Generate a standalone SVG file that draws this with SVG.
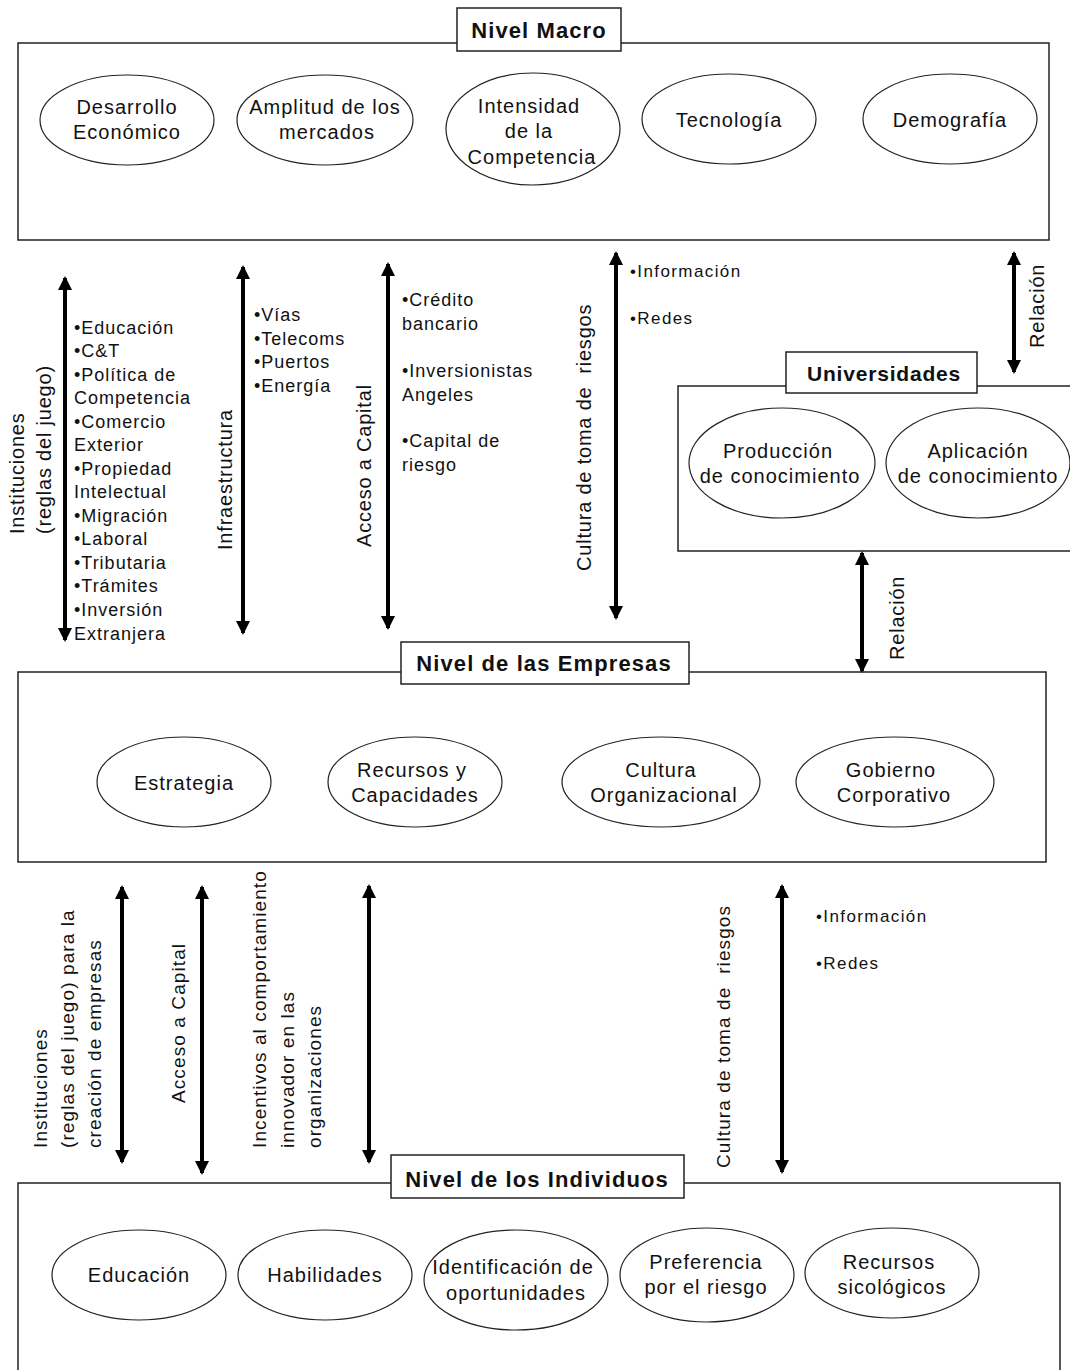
<svg xmlns="http://www.w3.org/2000/svg" width="1070" height="1370" viewBox="0 0 1070 1370">
<defs>
<marker id="ah" markerUnits="userSpaceOnUse" markerWidth="14" markerHeight="16" viewBox="0 0 14 16" refX="12" refY="8" orient="auto-start-reverse">
<path d="M0,1 L14,8 L0,15 Z" fill="#000"/>
</marker>
</defs>
<style>
text{font-family:"Liberation Sans",Arial,sans-serif;fill:#111}
.frame{fill:none;stroke:#222;stroke-width:1.5}
.tbox{fill:#fff;stroke:#222;stroke-width:1.5}
.title{font-size:22px;font-weight:bold;text-anchor:middle;letter-spacing:1.1px}
.ell{fill:#fff;stroke:#222;stroke-width:1.2}
.et{font-size:20px;text-anchor:middle;letter-spacing:1px}
.bl{font-size:18px;letter-spacing:1px}
.bs{font-size:17px;letter-spacing:1.4px}
.lab{font-size:20px;letter-spacing:0.8px}
.labs{font-size:19px;letter-spacing:1.1px}
.arr{stroke:#000;stroke-width:4;marker-start:url(#ah);marker-end:url(#ah)}
</style>

<g id="macro">
<rect class="frame" x="18" y="43" width="1031" height="197"/>
<rect class="tbox" x="457" y="8" width="164" height="43"/>
<text class="title" x="539" y="38">Nivel Macro</text>
</g>
<g id="desarrollo"><ellipse class="ell" cx="127" cy="120" rx="87" ry="45"/><text class="et" x="127" y="114">Desarrollo</text><text class="et" x="127" y="139">Económico</text></g>
<g id="amplitud"><ellipse class="ell" cx="325" cy="120" rx="88" ry="45"/><text class="et" x="325" y="114">Amplitud de los</text><text class="et" x="327" y="139">mercados</text></g>
<g id="intensidad"><ellipse class="ell" cx="533" cy="129" rx="87" ry="56"/><text class="et" x="529" y="113">Intensidad</text><text class="et" x="529" y="138">de la</text><text class="et" x="532" y="164">Competencia</text></g>
<g id="tecnologia"><ellipse class="ell" cx="729" cy="119" rx="87" ry="45"/><text class="et" x="729" y="127">Tecnología</text></g>
<g id="demografia"><ellipse class="ell" cx="950" cy="119" rx="87" ry="45"/><text class="et" x="950" y="127">Demografía</text></g>

<g id="universidades">
<rect class="frame" x="678" y="386" width="400" height="165"/>
<rect class="tbox" x="786" y="352" width="191" height="41"/>
<text class="title" x="884" y="381" style="font-size:21px;letter-spacing:0.8px">Universidades</text>
</g>
<g id="produccion"><ellipse class="ell" cx="782" cy="463" rx="93" ry="55"/><text class="et" x="778" y="458">Producción</text><text class="et" x="780" y="483">de conocimiento</text></g>
<g id="aplicacion"><ellipse class="ell" cx="978" cy="463" rx="92" ry="55"/><text class="et" x="978" y="458">Aplicación</text><text class="et" x="978" y="483">de conocimiento</text></g>

<g id="empresas">
<rect class="frame" x="18" y="672" width="1028" height="190"/>
<rect class="tbox" x="401" y="642" width="288" height="42"/>
<text class="title" x="544" y="671">Nivel de las Empresas</text>
</g>
<g id="estrategia"><ellipse class="ell" cx="184" cy="782" rx="87" ry="45"/><text class="et" x="184" y="790">Estrategia</text></g>
<g id="recursos"><ellipse class="ell" cx="415" cy="782" rx="87" ry="45"/><text class="et" x="412" y="777">Recursos y</text><text class="et" x="415" y="802">Capacidades</text></g>
<g id="cultura"><ellipse class="ell" cx="661" cy="782" rx="99" ry="45"/><text class="et" x="661" y="777">Cultura</text><text class="et" x="664" y="802">Organizacional</text></g>
<g id="gobierno"><ellipse class="ell" cx="895" cy="782" rx="99" ry="45"/><text class="et" x="891" y="777">Gobierno</text><text class="et" x="894" y="802">Corporativo</text></g>

<g id="individuos">
<rect class="frame" x="18" y="1183" width="1042" height="200"/>
<rect class="tbox" x="391" y="1155" width="293" height="43"/>
<text class="title" x="537" y="1187">Nivel de los Individuos</text>
</g>
<g id="educacion"><ellipse class="ell" cx="139" cy="1275" rx="87" ry="45"/><text class="et" x="139" y="1282">Educación</text></g>
<g id="habilidades"><ellipse class="ell" cx="325" cy="1275" rx="87" ry="45"/><text class="et" x="325" y="1282">Habilidades</text></g>
<g id="identificacion"><ellipse class="ell" cx="516" cy="1280" rx="92" ry="50"/><text class="et" x="513" y="1274">Identificación de</text><text class="et" x="516" y="1300">oportunidades</text></g>
<g id="preferencia"><ellipse class="ell" cx="707" cy="1275" rx="87" ry="47"/><text class="et" x="706" y="1269">Preferencia</text><text class="et" x="706" y="1294">por el riesgo</text></g>
<g id="sicologicos"><ellipse class="ell" cx="892" cy="1273" rx="87" ry="45"/><text class="et" x="889" y="1269">Recursos</text><text class="et" x="892" y="1294">sicológicos</text></g>

<g id="connectors">
<line class="arr" x1="65" y1="278" x2="65" y2="640"/>
<line class="arr" x1="243" y1="267" x2="243" y2="633"/>
<line class="arr" x1="388" y1="264" x2="388" y2="628"/>
<line class="arr" x1="616" y1="253" x2="616" y2="618"/>
<line class="arr" x1="1014" y1="253" x2="1014" y2="372"/>
<line class="arr" x1="862" y1="553" x2="862" y2="671"/>
<line class="arr" x1="122" y1="887" x2="122" y2="1162"/>
<line class="arr" x1="202" y1="887" x2="202" y2="1173"/>
<line class="arr" x1="369" y1="886" x2="369" y2="1162"/>
<line class="arr" x1="782" y1="886" x2="782" y2="1172"/>
</g>

<g id="labels">
<g class="lab">
<text transform="translate(24,534) rotate(-90)">Instituciones</text>
<text transform="translate(51,534) rotate(-90)">(reglas del juego)</text>
<text transform="translate(232,550) rotate(-90)">Infraestructura</text>
<text transform="translate(371,547) rotate(-90)">Acceso a Capital</text>
<text transform="translate(591,571) rotate(-90)" xml:space="preserve">Cultura de toma de  riesgos</text>
<text transform="translate(1044,348) rotate(-90)">Relación</text>
<text transform="translate(904,660) rotate(-90)">Relación</text>
</g>
<g class="bl">
<text x="74" y="334">•Educación</text>
<text x="74" y="357">•C&amp;T</text>
<text x="74" y="381">•Política de</text>
<text x="74" y="404">Competencia</text>
<text x="74" y="428">•Comercio</text>
<text x="74" y="451">Exterior</text>
<text x="74" y="475">•Propiedad</text>
<text x="74" y="498">Intelectual</text>
<text x="74" y="522">•Migración</text>
<text x="74" y="545">•Laboral</text>
<text x="74" y="569">•Tributaria</text>
<text x="74" y="592">•Trámites</text>
<text x="74" y="616">•Inversión</text>
<text x="74" y="640">Extranjera</text>
<text x="254" y="321">•Vías</text>
<text x="254" y="345">•Telecoms</text>
<text x="254" y="368">•Puertos</text>
<text x="254" y="392">•Energía</text>
<text x="402" y="306">•Crédito</text>
<text x="402" y="330">bancario</text>
<text x="402" y="377">•Inversionistas</text>
<text x="402" y="401">Angeles</text>
<text x="402" y="447">•Capital de</text>
<text x="402" y="471">riesgo</text>
</g>
<g class="bs">
<text x="630" y="277">•Información</text>
<text x="630" y="324">•Redes</text>
<text x="816" y="922">•Información</text>
<text x="816" y="969">•Redes</text>
</g>
<g class="labs">
<text transform="translate(47,1148) rotate(-90)">Instituciones</text>
<text transform="translate(74,1148) rotate(-90)">(reglas del juego) para la</text>
<text transform="translate(101,1148) rotate(-90)">creación de empresas</text>
<text transform="translate(185,1103) rotate(-90)">Acceso a Capital</text>
<text transform="translate(266,1148) rotate(-90)">Incentivos al comportamiento</text>
<text transform="translate(294,1148) rotate(-90)">innovador en las</text>
<text transform="translate(321,1148) rotate(-90)">organizaciones</text>
<text transform="translate(730,1168) rotate(-90)" xml:space="preserve">Cultura de toma de  riesgos</text>
</g>
</g>
</svg>
